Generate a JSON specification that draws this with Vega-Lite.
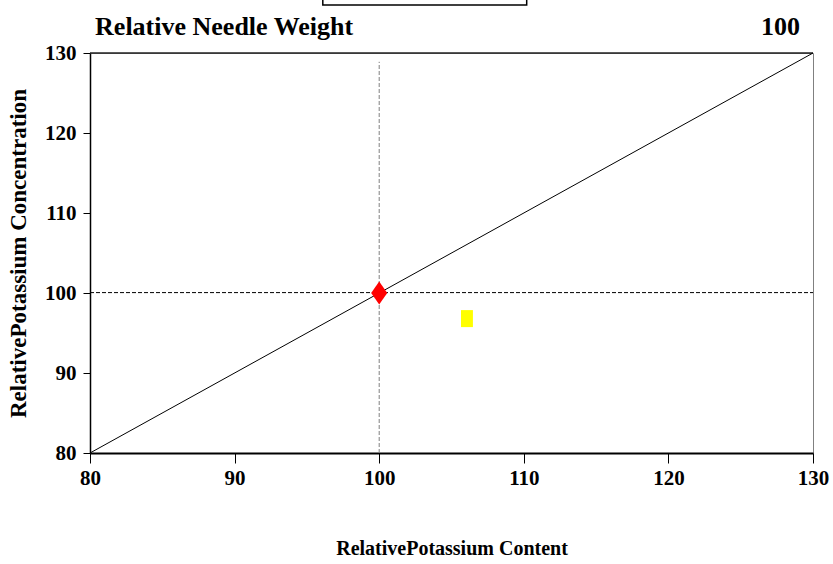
{
  "$schema": "https://vega.github.io/schema/vega-lite/v6.json",
  "width": 723,
  "height": 400,
  "autosize": {"type": "none"},
  "padding": {"left": 90, "top": 53, "right": 20, "bottom": 111},
  "background": "white",
  "config": {
    "view": {"stroke": "#808080", "strokeWidth": 1},
    "font": "Liberation Serif"
  },
  "encoding": {
    "x": {
      "field": "x",
      "type": "quantitative",
      "scale": {"domain": [80, 130], "nice": false, "zero": false},
      "axis": {
        "values": [80, 90, 100, 110, 120, 130],
        "title": "RelativePotassium Content",
        "grid": false,
        "labelFont": "Liberation Serif",
        "labelFontWeight": "bold",
        "labelFontSize": 21,
        "labelColor": "black",
        "labelFlush": false,
        "labelOverlap": false,
        "labelPadding": 4,
        "tickColor": "black",
        "tickSize": 10,
        "tickWidth": 1,
        "domainColor": "black",
        "domainWidth": 2,
        "titleFont": "Liberation Serif",
        "titleFontWeight": "bold",
        "titleFontSize": 20,
        "titleColor": "black",
        "titlePadding": 50
      }
    },
    "y": {
      "field": "y",
      "type": "quantitative",
      "scale": {"domain": [80, 130], "nice": false, "zero": false},
      "axis": {
        "values": [80, 90, 100, 110, 120, 130],
        "title": "RelativePotassium Concentration",
        "grid": false,
        "labelFont": "Liberation Serif",
        "labelFontWeight": "bold",
        "labelFontSize": 21,
        "labelColor": "black",
        "labelFlush": false,
        "labelOverlap": false,
        "labelPadding": 7,
        "tickColor": "black",
        "tickSize": 7,
        "tickWidth": 1,
        "domainColor": "black",
        "domainWidth": 1.5,
        "titleFont": "Liberation Serif",
        "titleFontWeight": "bold",
        "titleFontSize": 23,
        "titleColor": "black",
        "titlePadding": 14
      }
    }
  },
  "layer": [
    {
      "data": {"values": [{"x": 80, "y": 130, "x2": 130, "y2": 130}]},
      "mark": {"type": "rule", "color": "#222222", "strokeWidth": 1.5},
      "encoding": {"x2": {"field": "x2"}, "y2": {"field": "y2"}}
    },
    {
      "data": {"values": [{"x": 100, "y": 80, "x2": 100, "y2": 128.9}]},
      "mark": {"type": "rule", "color": "#808080", "strokeWidth": 1, "strokeDash": [4, 2]},
      "encoding": {"x2": {"field": "x2"}, "y2": {"field": "y2"}}
    },
    {
      "data": {"values": [{"x": 80, "y": 100.05, "x2": 130, "y2": 100.05}]},
      "mark": {"type": "rule", "color": "black", "strokeWidth": 1, "strokeDash": [4, 2]},
      "encoding": {"x2": {"field": "x2"}, "y2": {"field": "y2"}}
    },
    {
      "data": {"values": [{"x": 80, "y": 80, "x2": 130, "y2": 130}]},
      "mark": {"type": "rule", "color": "black", "strokeWidth": 1},
      "encoding": {"x2": {"field": "x2"}, "y2": {"field": "y2"}}
    },
    {
      "data": {"values": [{"x": 96.1, "y": 136, "x2": 110.2, "y2": 146}]},
      "mark": {"type": "rect", "fill": "white", "stroke": "black", "strokeWidth": 1.5},
      "encoding": {"x2": {"field": "x2"}, "y2": {"field": "y2"}}
    },
    {
      "data": {"values": [{"x": 100, "y": 100, "series": "reference"}]},
      "mark": {"type": "point", "shape": "M0,-1L0.7,0L0,1L-0.7,0Z", "filled": true, "color": "#ff0000", "opacity": 1, "size": 529}
    },
    {
      "data": {"values": [{"x": 106.07, "y": 96.8, "series": "sample"}]},
      "mark": {"type": "point", "shape": "M-0.7,-1L0.7,-1L0.7,1L-0.7,1Z", "filled": true, "color": "#ffff00", "opacity": 1, "size": 289}
    },
    {
      "data": {"values": [
        {"x": 80.35, "y": 132.25, "label": "Relative Needle Weight", "side": "left"}
      ]},
      "mark": {"type": "text", "align": "left", "baseline": "alphabetic", "font": "Liberation Serif", "fontWeight": "bold", "fontSize": 26, "color": "black"},
      "encoding": {"text": {"field": "label"}}
    },
    {
      "data": {"values": [
        {"x": 129.1, "y": 132.25, "label": "100", "side": "right"}
      ]},
      "mark": {"type": "text", "align": "right", "baseline": "alphabetic", "font": "Liberation Serif", "fontWeight": "bold", "fontSize": 26, "color": "black"},
      "encoding": {"text": {"field": "label"}}
    }
  ]
}
